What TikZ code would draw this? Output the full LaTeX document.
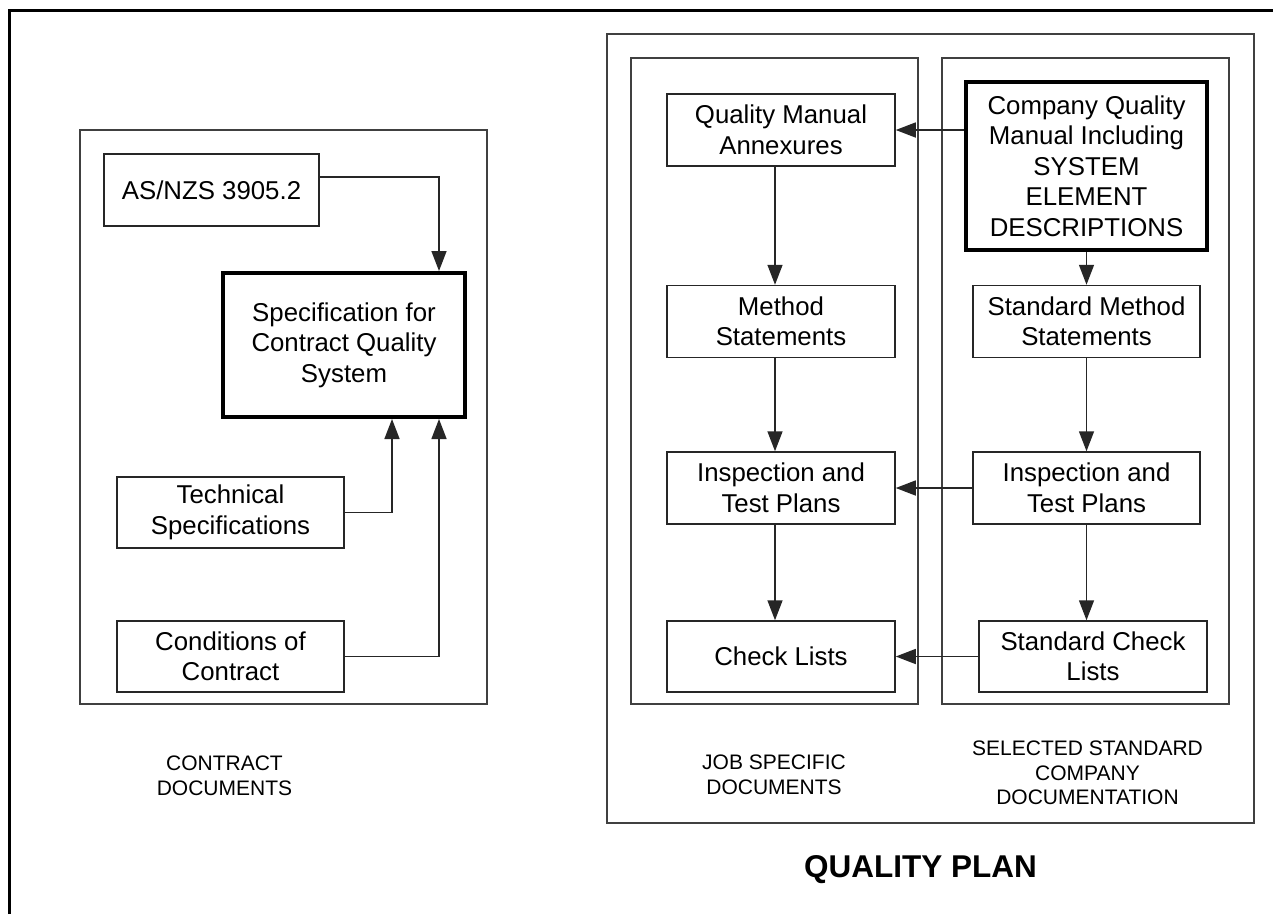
\documentclass[tikz,border=0pt]{standalone}
\usepackage{fontspec}
\setmainfont{Liberation Sans}
\usetikzlibrary{arrows.meta}
\begin{document}
\begin{tikzpicture}[x=1pt,y=-1pt,
  box/.style={draw=black!85, line width=1.5pt, inner sep=0pt, align=center,
    font=\fontsize{25.8}{30.5}\selectfont},
  thickbox/.style={box, draw=black, line width=4pt},
  container/.style={draw=black!75, line width=1.5pt},
  arr/.style={draw=black!85, line width=1.5pt, -{Triangle[length=20pt,width=15pt]}},
  lbl/.style={align=center, inner sep=0pt, font=\fontsize{21}{24.5}\selectfont},
  title/.style={inner sep=0pt, font=\fontsize{31.5}{36}\selectfont\bfseries}]
\useasboundingbox (0,0) rectangle (1273,914);
\fill[white] (0,0) rectangle (1273,914);
% outer frame
\draw[line width=3pt, black] (9,914) -- (9,10) -- (1273,10);
% containers
\draw[container] (80,130) rectangle (487,704);
\draw[container] (607,34) rectangle (1254,823);
\draw[container] (631,58) rectangle (918,704);
\draw[container] (942,58) rectangle (1229,704);
% contract documents
\node[box, minimum width=215pt, minimum height=72pt] (asnzs) at (211.5,190) {AS/NZS 3905.2};
\node[thickbox, minimum width=242pt, minimum height=144pt] (spec) at (344,345) {Specification for\\Contract Quality\\System};
\node[box, minimum width=227pt, minimum height=71pt] (tech) at (230.5,512.5) {Technical\\Specifications};
\node[box, minimum width=227pt, minimum height=71pt] (cond) at (230.5,656.5) {Conditions of\\Contract};
\draw[arr] ([yshift=13pt]asnzs.east) -| ([xshift=95pt]spec.north);
\draw[arr] (tech.east) -| ([xshift=48pt]spec.south);
\draw[arr] (cond.east) -| ([xshift=95pt]spec.south);
% job specific
\node[box, minimum width=228pt, minimum height=72pt] (qma) at (781,130) {Quality Manual\\Annexures};
\node[box, minimum width=228pt, minimum height=72pt] (meth) at (781,321.5) {Method\\Statements};
\node[box, minimum width=228pt, minimum height=72pt] (insp1) at (781,488) {Inspection and\\Test Plans};
\node[box, minimum width=228pt, minimum height=71pt] (check1) at (781,656.5) {Check Lists};
% standard company
\node[thickbox, minimum width=241pt, minimum height=168pt] (comp) at (1086.5,166) {Company Quality\\Manual Including\\SYSTEM\\ELEMENT\\DESCRIPTIONS};
\node[box, minimum width=227pt, minimum height=72pt] (smeth) at (1086.5,321.5) {Standard Method\\Statements};
\node[box, minimum width=227pt, minimum height=72pt] (insp2) at (1086.5,488) {Inspection and\\Test Plans};
\node[box, minimum width=228pt, minimum height=71pt] (scheck) at (1093,656.5) {Standard Check\\Lists};
% vertical flows
\draw[arr] ([xshift=-6pt]qma.south) -- ([xshift=-6pt]meth.north);
\draw[arr] ([xshift=-6pt]meth.south) -- ([xshift=-6pt]insp1.north);
\draw[arr] ([xshift=-6pt]insp1.south) -- ([xshift=-6pt]check1.north);
\draw[arr] (comp.south) -- (smeth.north);
\draw[arr] (smeth.south) -- (insp2.north);
\draw[arr] (insp2.south) -- (insp2.south |- scheck.north);
% horizontal flows
\draw[arr] (comp.west |- qma.east) -- (qma.east);
\draw[arr] (insp2.west) -- (insp1.east);
\draw[arr] (scheck.west) -- (check1.east);
% labels
\node[lbl] (lcontract) at (224.5,776) {CONTRACT\\DOCUMENTS};
\node[lbl] (ljob) at (774,775) {JOB SPECIFIC\\DOCUMENTS};
\node[lbl] (lsel) at (1087.5,773) {SELECTED STANDARD\\COMPANY\\DOCUMENTATION};
\node[title] (ltitle) at (920.5,870) {QUALITY PLAN};
\end{tikzpicture}
\end{document}
